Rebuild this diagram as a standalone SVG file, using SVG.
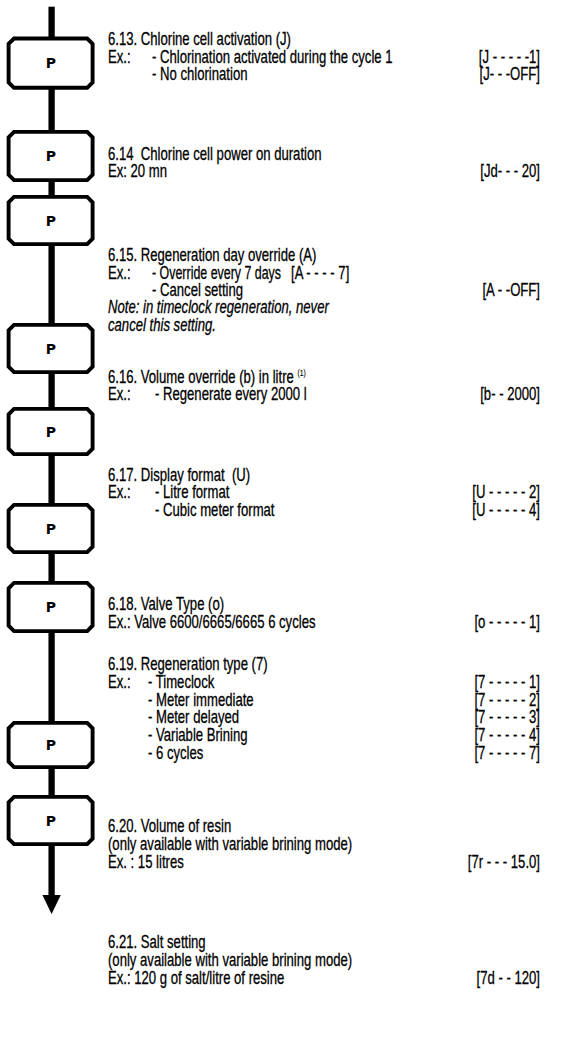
<svg xmlns="http://www.w3.org/2000/svg" width="568" height="1037" viewBox="0 0 568 1037">
<style>
.bx{fill:#fff;stroke:#000;stroke-width:3.9;stroke-linejoin:miter}
.c{stroke:#000;stroke-width:6.3;fill:none}
text{font-family:"Liberation Sans",Arial,sans-serif;font-size:17.5px;fill:#000;stroke:#000;stroke-width:0.3;white-space:pre}
text.p{font-family:"DejaVu Sans",sans-serif;font-size:14px;font-weight:bold;text-anchor:middle;stroke:none}
.r{text-anchor:end}
.i{font-style:italic}
.sup{font-size:9px;stroke-width:0.15}
</style>
<defs>
<marker id="ah" markerUnits="userSpaceOnUse" markerWidth="19" markerHeight="19" refX="0" refY="9.2" orient="auto" viewBox="0 0 19 18.4">
<path d="M0,0 L19,9.2 L0,18.4 Z" fill="#000"/>
</marker>
</defs>
<g id="connectors">
<line class="c" x1="51.6" y1="6.7" x2="51.6" y2="37"/>
<line class="c" x1="51.6" y1="89" x2="51.6" y2="131"/>
<line class="c" x1="51.6" y1="181" x2="51.6" y2="196"/>
<line class="c" x1="51.6" y1="245" x2="51.6" y2="324"/>
<line class="c" x1="51.6" y1="373" x2="51.6" y2="408"/>
<line class="c" x1="51.6" y1="455" x2="51.6" y2="504"/>
<line class="c" x1="51.6" y1="553" x2="51.6" y2="582"/>
<line class="c" x1="51.6" y1="632" x2="51.6" y2="722"/>
<line class="c" x1="51.6" y1="768" x2="51.6" y2="796"/>
<line class="c" x1="51.6" y1="845" x2="51.6" y2="895" marker-end="url(#ah)"/>
</g>
<g id="box1"><path class="bx" d="M14,38.5 H87.2 L92.6,43.9 V82.4 L87.2,87.8 H14 L8.6,82.4 V43.9 Z"/><text class="p" x="51" y="68.2">P</text></g>
<g id="box2"><path class="bx" d="M14,131.9 H87.2 L92.6,137.3 V174.7 L87.2,180.1 H14 L8.6,174.7 V137.3 Z"/><text class="p" x="51" y="161">P</text></g>
<g id="box3"><path class="bx" d="M14,196.9 H87.2 L92.6,202.3 V238.7 L87.2,244.1 H14 L8.6,238.7 V202.3 Z"/><text class="p" x="51" y="225.5">P</text></g>
<g id="box4"><path class="bx" d="M14,324.9 H87.2 L92.6,330.3 V366.7 L87.2,372.1 H14 L8.6,366.7 V330.3 Z"/><text class="p" x="51" y="353.5">P</text></g>
<g id="box5"><path class="bx" d="M14,408.9 H87.2 L92.6,414.3 V448.7 L87.2,454.1 H14 L8.6,448.7 V414.3 Z"/><text class="p" x="51" y="436.5">P</text></g>
<g id="box6"><path class="bx" d="M14,504.9 H87.2 L92.6,510.3 V546.7 L87.2,552.1 H14 L8.6,546.7 V510.3 Z"/><text class="p" x="51" y="533.5">P</text></g>
<g id="box7"><path class="bx" d="M14,582.9 H87.2 L92.6,588.3 V625.7 L87.2,631.1 H14 L8.6,625.7 V588.3 Z"/><text class="p" x="51" y="612">P</text></g>
<g id="box8"><path class="bx" d="M14,722.9 H87.2 L92.6,728.3 V761.7 L87.2,767.1 H14 L8.6,761.7 V728.3 Z"/><text class="p" x="51" y="750">P</text></g>
<g id="box9"><path class="bx" d="M14,796.9 H87.2 L92.6,802.3 V838.7 L87.2,844.1 H14 L8.6,838.7 V802.3 Z"/><text class="p" x="51" y="825.5">P</text></g>

<g id="s613" transform="scale(0.75,1)">
<text x="144" y="45.3">6.13. Chlorine cell activation (J)</text>
<text x="144" y="62.7">Ex.:</text><text x="202.7" y="62.7">- Chlorination activated during the cycle 1</text><text class="r" x="720" y="62.7">[J - - - - -1]</text>
<text x="202.7" y="80">- No chlorination</text><text class="r" x="720" y="80">[J- - -OFF]</text>
</g>
<g id="s614" transform="scale(0.75,1)">
<text x="144" y="160">6.14  Chlorine cell power on duration</text>
<text x="144" y="177.4">Ex: 20 mn</text><text class="r" x="720" y="177.4">[Jd- - - 20]</text>
</g>
<g id="s615" transform="scale(0.75,1)">
<text x="144" y="261.2">6.15. Regeneration day override (A)</text>
<text x="144" y="278.6">Ex.:</text><text x="202.7" y="278.6" textLength="172" lengthAdjust="spacingAndGlyphs">- Override every 7 days</text><text x="388" y="278.6">[A - - - - 7]</text>
<text x="202.7" y="296">- Cancel setting</text><text class="r" x="720" y="296">[A - -OFF]</text>
<text class="i" x="144" y="313.3">Note: in timeclock regeneration, never</text>
<text class="i" x="144" y="330.7">cancel this setting.</text>
</g>
<g id="s616" transform="scale(0.75,1)">
<text x="144" y="382.7">6.16. Volume override (b) in litre <tspan class="sup" dy="-7">(1)</tspan></text>
<text x="144" y="400">Ex.:</text><text x="206.7" y="400">- Regenerate every 2000 l</text><text class="r" x="720" y="400">[b- - 2000]</text>
</g>
<g id="s617" transform="scale(0.75,1)">
<text x="144" y="481">6.17. Display format  (U)</text>
<text x="144" y="498.4">Ex.:</text><text x="206.7" y="498.4">- Litre format</text><text class="r" x="720" y="498.4">[U - - - - - 2]</text>
<text x="206.7" y="515.7">- Cubic meter format</text><text class="r" x="720" y="515.7">[U - - - - - 4]</text>
</g>
<g id="s618" transform="scale(0.75,1)">
<text x="144" y="610">6.18. Valve Type (o)</text>
<text x="144" y="627.6">Ex.: Valve 6600/6665/6665 6 cycles</text><text class="r" x="720" y="627.6">[o - - - - - 1]</text>
</g>
<g id="s619" transform="scale(0.75,1)">
<text x="144" y="670">6.19. Regeneration type (7)</text>
<text x="144" y="687.8">Ex.:</text><text x="197.3" y="687.8">- Timeclock</text><text class="r" x="720" y="687.8">[7 - - - - - 1]</text>
<text x="197.3" y="705.6">- Meter immediate</text><text class="r" x="720" y="705.6">[7 - - - - - 2]</text>
<text x="197.3" y="723.5">- Meter delayed</text><text class="r" x="720" y="723.5">[7 - - - - - 3]</text>
<text x="197.3" y="741.3">- Variable Brining</text><text class="r" x="720" y="741.3">[7 - - - - - 4]</text>
<text x="197.3" y="759.2">- 6 cycles</text><text class="r" x="720" y="759.2">[7 - - - - - 7]</text>
</g>
<g id="s620" transform="scale(0.75,1)">
<text x="144" y="832">6.20. Volume of resin</text>
<text x="144" y="849.8">(only available with variable brining mode)</text>
<text x="144" y="867.6">Ex. : 15 litres</text><text class="r" x="720" y="867.6">[7r - - - 15.0]</text>
</g>
<g id="s621" transform="scale(0.75,1)">
<text x="144" y="947.6">6.21. Salt setting</text>
<text x="144" y="966">(only available with variable brining mode)</text>
<text x="144" y="984.2">Ex.: 120 g of salt/litre of resine</text><text class="r" x="720" y="984.2">[7d - - 120]</text>
</g>
</svg>
